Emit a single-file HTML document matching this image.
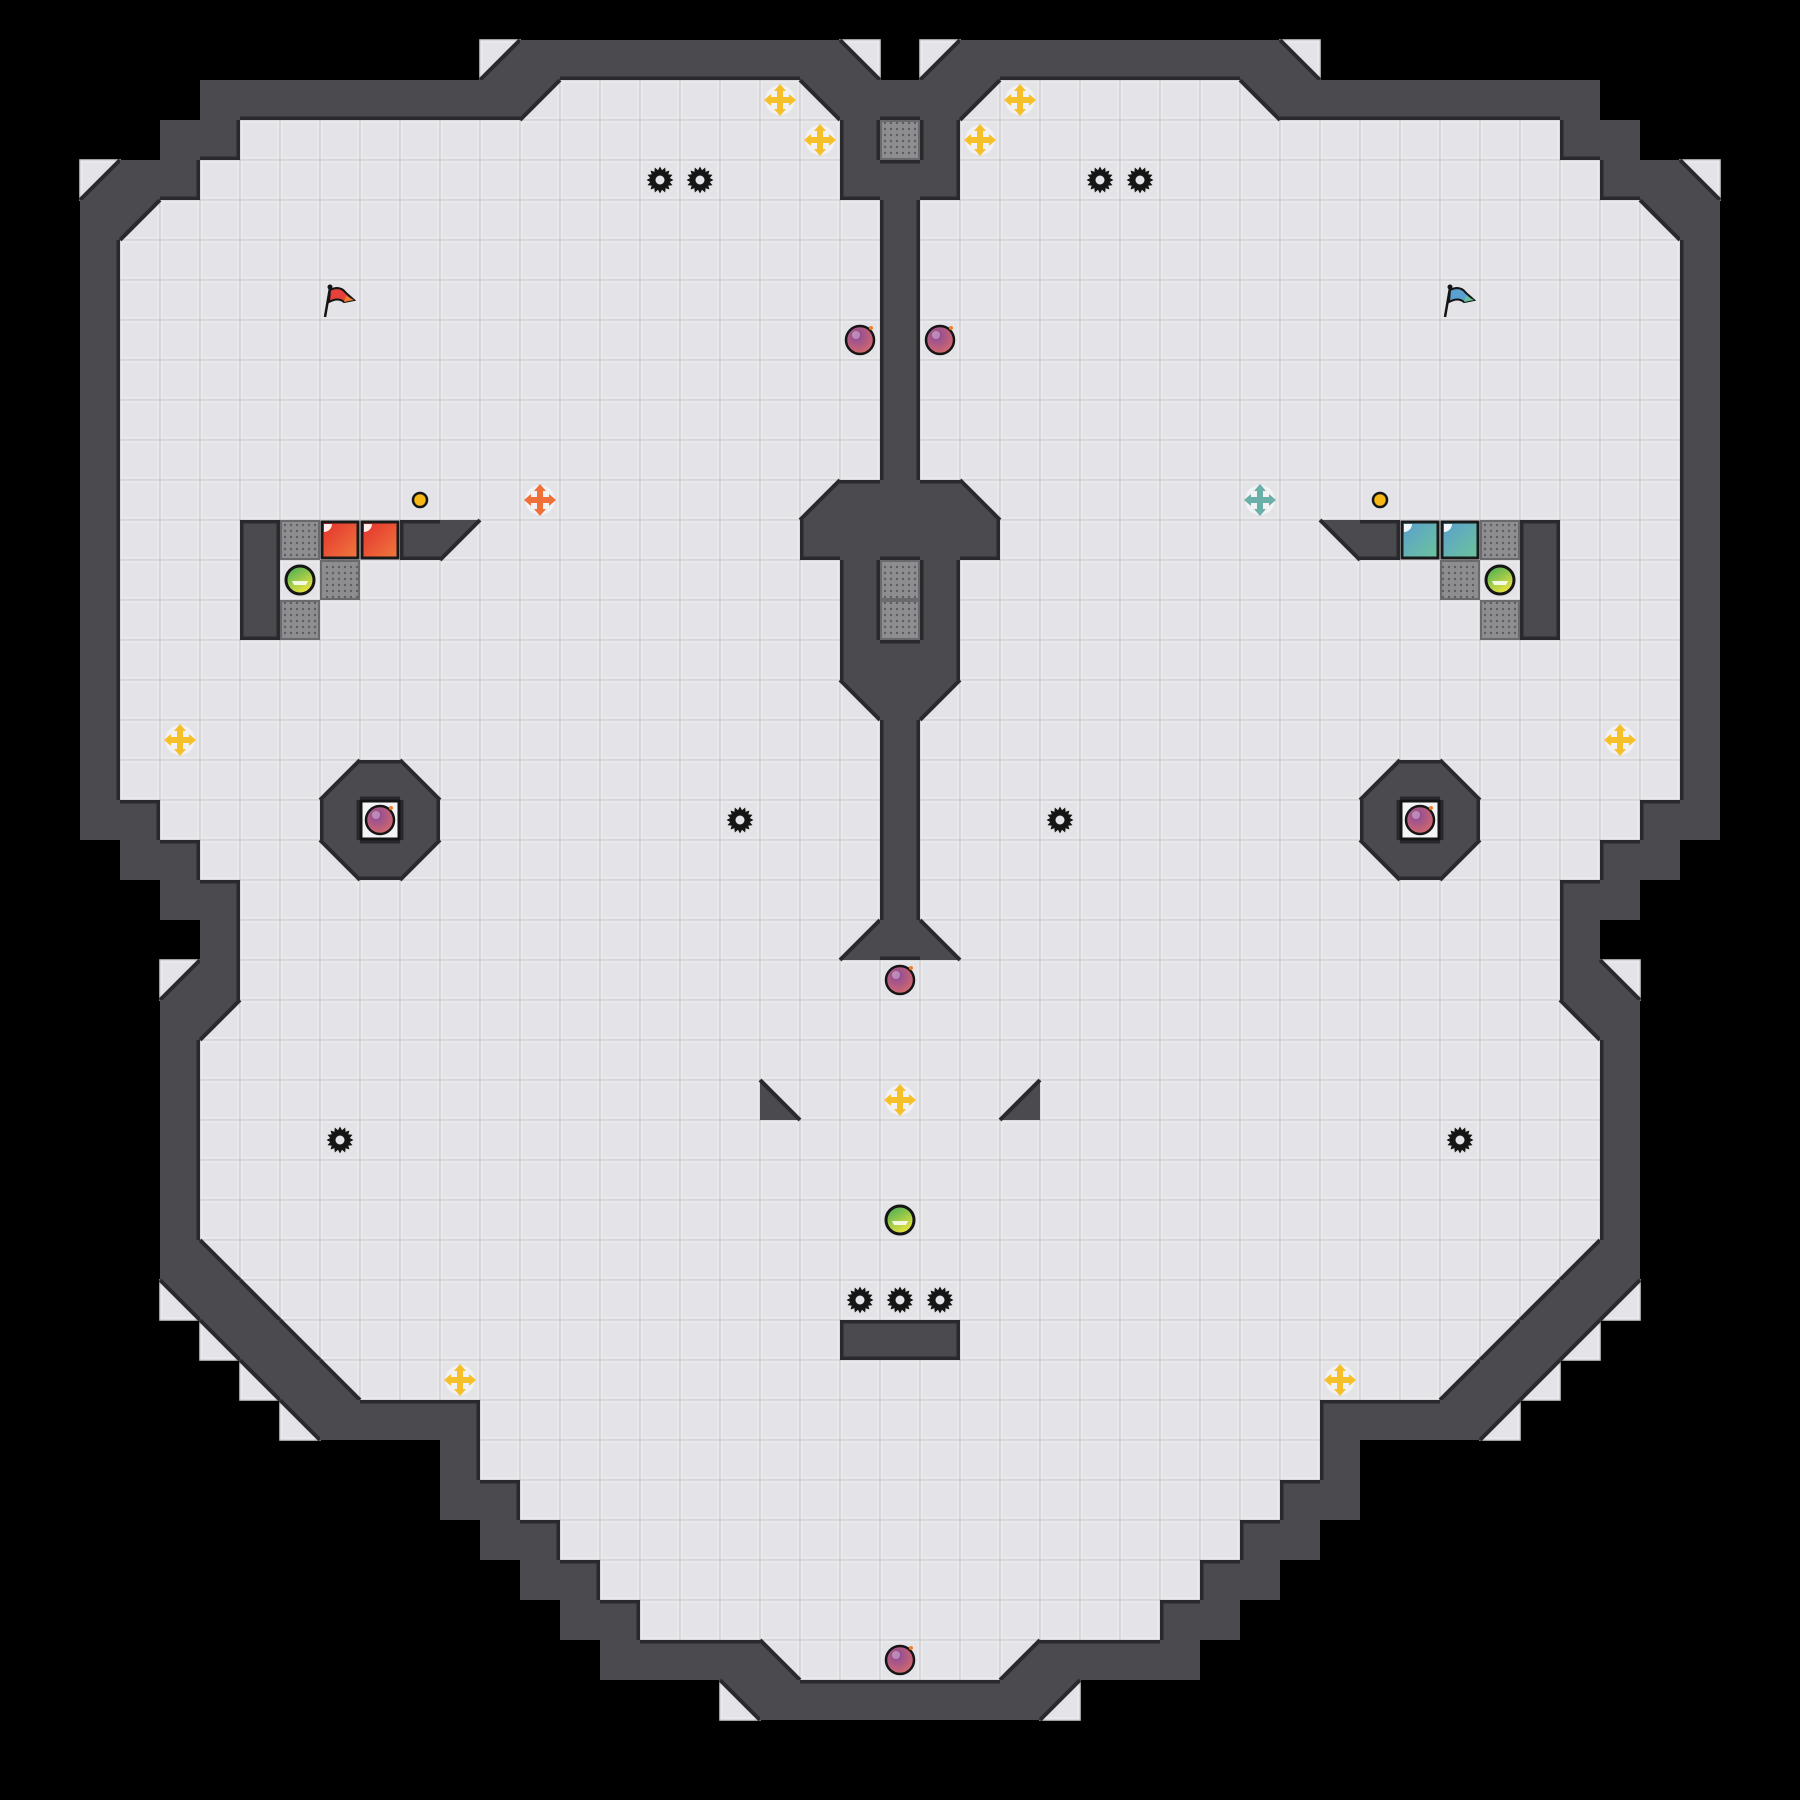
<!DOCTYPE html>
<html><head><meta charset="utf-8"><style>
html,body{margin:0;padding:0;background:#000;width:1800px;height:1800px;overflow:hidden}
svg{display:block}
</style></head><body>
<svg id="m" xmlns="http://www.w3.org/2000/svg" width="1800" height="1800" viewBox="0 0 1800 1800"></svg>
<script>
const L=[
"                       ",
"            4########3 ",
"     ########1......2##",
"    ##...............#g",
"  4##................##",
"  #1..................#",
"  #...................#",
"  #...................#",
"  #...................#",
"  #...................#",
"  #...................#",
"  #...................#",
"  #.................4##",
"  #...#gRR#1........###",
"  #...#.g............#g",
"  #...#g.............#g",
"  #..................##",
"  #..................2#",
"  #...................#",
"  #.....4#3...........#",
"  ##....#.#...........#",
"   ##...2#1...........#",
"    ##................#",
"     #...............4#",
"    4#.................",
"    #1.................",
"    #..................",
"    #..............3...",
"    #..................",
"    #..................",
"    #..................",
"    #3.................",
"    2#3................",
"     2#3.............##",
"      2#3..............",
"       2####...........",
"           #...........",
"           ##..........",
"            ##.........",
"             ##........",
"              ##.......",
"               ####3...",
"                  2####",
"                       ",
"                       "];
const mir={'1':'2','2':'1','3':'4','4':'3','R':'B'};
const G=[];
for(let r=0;r<45;r++){const s=L[r];const row=new Array(45).fill(' ');
for(let c=0;c<23;c++)row[c]=s[c]||' ';
for(let c=0;c<22;c++){const ch=s[c]||' ';row[44-c]=mir[ch]||ch;}
G.push(row);}
const T=40;let o=[];
o.push(`<defs>
<pattern id="dots" width="6" height="6" patternUnits="userSpaceOnUse"><rect width="6" height="6" fill="#8e8e90"/><circle cx="3" cy="3" r="1.2" fill="#5e5e62"/></pattern>
<linearGradient id="rg" x1="0" y1="0" x2="1" y2="1"><stop offset="0" stop-color="#e3302c"/><stop offset="1" stop-color="#f07a3e"/></linearGradient>
<linearGradient id="bg" x1="0" y1="0" x2="1" y2="1"><stop offset="0" stop-color="#5aa0d0"/><stop offset="1" stop-color="#6cc39a"/></linearGradient>
<radialGradient id="bombg" cx="0.4" cy="0.35" r="0.7"><stop offset="0" stop-color="#8a4a9a"/><stop offset="1" stop-color="#d86a6a"/></radialGradient>
<linearGradient id="pg" x1="0" y1="0" x2="0.6" y2="1"><stop offset="0" stop-color="#3aa85a"/><stop offset="1" stop-color="#eae43c"/></linearGradient>
</defs>`);
const WALL="#4b4a4f",EDGE="#2a292d",FL="#e4e4e8";
const at=(r,c)=>(r<0||c<0||r>44||c>44)?' ':G[r][c];
const isW=ch=>ch==='#';
// floor layer
for(let r=0;r<45;r++)for(let c=0;c<45;c++){const ch=G[r][c];if(ch===' '||ch==='#')continue;
o.push(`<rect x="${c*T}" y="${r*T}" width="40" height="40" fill="${FL}" stroke="#d3d3d7" stroke-width="1.5"/><rect x="${c*T+2}" y="${r*T+2}" width="36" height="36" fill="none" stroke="#eeeef1" stroke-width="1"/>`);}
// walls
for(let r=0;r<45;r++)for(let c=0;c<45;c++){const ch=G[r][c];const x=c*T,y=r*T;
if(ch==='#'){o.push(`<rect x="${x}" y="${y}" width="40" height="40" fill="${WALL}"/>`);}
else if('1234'.includes(ch)){let p;
if(ch==='1')p=[[x,y],[x+40,y],[x,y+40]];if(ch==='2')p=[[x,y],[x+40,y],[x+40,y+40]];
if(ch==='3')p=[[x,y],[x,y+40],[x+40,y+40]];if(ch==='4')p=[[x+40,y],[x+40,y+40],[x,y+40]];
o.push(`<polygon points="${p.map(q=>q.join(',')).join(' ')}" fill="${WALL}"/>`);
let a,b;if(ch==='1'||ch==='4'){a=[x+40,y];b=[x,y+40];}else{a=[x,y];b=[x+40,y+40];}
o.push(`<line x1="${a[0]}" y1="${a[1]}" x2="${b[0]}" y2="${b[1]}" stroke="${EDGE}" stroke-width="4"/>`);}
else if(ch==='g'){o.push(`<rect x="${x+1}" y="${y+1}" width="38" height="38" fill="url(#dots)" stroke="#6a6a6e" stroke-width="2"/>`);}
else if(ch==='R'||ch==='B'){o.push(`<rect x="${x+2}" y="${y+2}" width="36" height="36" fill="url(#${ch==='R'?'rg':'bg'})" stroke="#1a1a1a" stroke-width="3"/><path d="M${x+4} ${y+12} A8 8 0 0 0 ${x+12} ${y+4} L${x+4} ${y+4}Z" fill="#fff" opacity=".9"/>`);}
}
// wall edges
for(let r=0;r<45;r++)for(let c=0;c<45;c++){if(!isW(G[r][c]))continue;const x=c*T,y=r*T;
const fl=ch=>'.gRB'.includes(ch);
if(fl(at(r-1,c)))o.push(`<rect x="${x}" y="${y}" width="40" height="3.5" fill="${EDGE}"/>`);
if(fl(at(r+1,c)))o.push(`<rect x="${x}" y="${y+36.5}" width="40" height="3.5" fill="${EDGE}"/>`);
if(fl(at(r,c-1)))o.push(`<rect x="${x}" y="${y}" width="3.5" height="40" fill="${EDGE}"/>`);
if(fl(at(r,c+1)))o.push(`<rect x="${x+36.5}" y="${y}" width="3.5" height="40" fill="${EDGE}"/>`);}
const C=(c,r)=>[c*T+20,r*T+20];
function boost(c,r,col){const[x,y]=C(c,r);o.push(`<circle cx="${x}" cy="${y}" r="15" fill="#fff" opacity=".5"/><g fill="${col}"><rect x="${x-3}" y="${y-11}" width="6" height="22"/><rect x="${x-11}" y="${y-3}" width="22" height="6"/><polygon points="${x},${y-16} ${x-6},${y-9} ${x+6},${y-9}"/><polygon points="${x},${y+16} ${x-6},${y+9} ${x+6},${y+9}"/><polygon points="${x-16},${y} ${x-9},${y-6} ${x-9},${y+6}"/><polygon points="${x+16},${y} ${x+9},${y-6} ${x+9},${y+6}"/></g>`);}
function spike(c,r){const[x,y]=C(c,r);let p=[];for(let i=0;i<32;i++){const a=i*Math.PI/16;const rr=i%2?10:13.5;p.push((x+rr*Math.cos(a)).toFixed(1)+','+(y+rr*Math.sin(a)).toFixed(1));}
o.push(`<polygon points="${p.join(' ')}" fill="#151515"/><circle cx="${x}" cy="${y}" r="4.5" fill="#e4e4e8"/>`);}
function bomb(c,r){const[x,y]=C(c,r);o.push(`<circle cx="${x}" cy="${y}" r="14" fill="url(#bombg)" stroke="#151515" stroke-width="2.5"/><circle cx="${x-4}" cy="${y-5}" r="4" fill="#fff" opacity=".35"/><circle cx="${x+11}" cy="${y-12}" r="2" fill="#f08030"/>`);}
function pup(c,r){const[x,y]=C(c,r);o.push(`<circle cx="${x}" cy="${y}" r="14" fill="url(#pg)" stroke="#151515" stroke-width="3"/><path d="M${x-8} ${y+1}h16l-2 4h-12z" fill="#fff" opacity=".85"/>`);}
function btn(c,r){const[x,y]=C(c,r);o.push(`<circle cx="${x}" cy="${y}" r="7" fill="#f5b814" stroke="#151515" stroke-width="2.5"/>`);}
function flag(c,r,col,col2){const x=c*T,y=r*T;o.push(`<line x1="${x+5}" y1="${y+37}" x2="${x+10}" y2="${y+8}" stroke="#151515" stroke-width="2.5"/><circle cx="${x+10}" cy="${y+7}" r="2.5" fill="#151515"/><path d="M${x+10} ${y+10} Q${x+20} ${y+5} ${x+26} ${y+13} L${x+34} ${y+20} L${x+24} ${y+22} Q${x+18} ${y+17} ${x+9} ${y+22}Z" fill="${col}" stroke="#151515" stroke-width="2"/><path d="M${x+26} ${y+16} L${x+34} ${y+20} L${x+24} ${y+22}Z" fill="${col2}"/>`);}
function bbox(c,r){const x=c*T,y=r*T;o.push(`<rect x="${x+1}" y="${y+1}" width="38" height="38" fill="#f4f4f6" stroke="#151515" stroke-width="3"/>`);}
[[9,20],[35,20]].forEach(a=>bbox(...a));
[[19,2],[20,3],[25,2],[24,3],[4,18],[40,18],[22,27],[11,34],[33,34]].forEach(a=>boost(a[0],a[1],"#f5c02a"));
boost(13,12,"#f0703a");boost(31,12,"#6ab0a8");
[[16,4],[17,4],[27,4],[28,4],[18,20],[26,20],[8,28],[36,28],[21,32],[22,32],[23,32]].forEach(a=>spike(...a));
[[21,8],[23,8],[9,20],[35,20],[22,24],[22,41]].forEach(a=>bomb(...a));
[[7,14],[37,14],[22,30]].forEach(a=>pup(...a));
btn(10,12);btn(34,12);
flag(8,7,"#e8403a","#f08030");flag(36,7,"#5aa0d0","#6cc39a");
document.getElementById('m').innerHTML=o.join('');
</script>
</body></html>
